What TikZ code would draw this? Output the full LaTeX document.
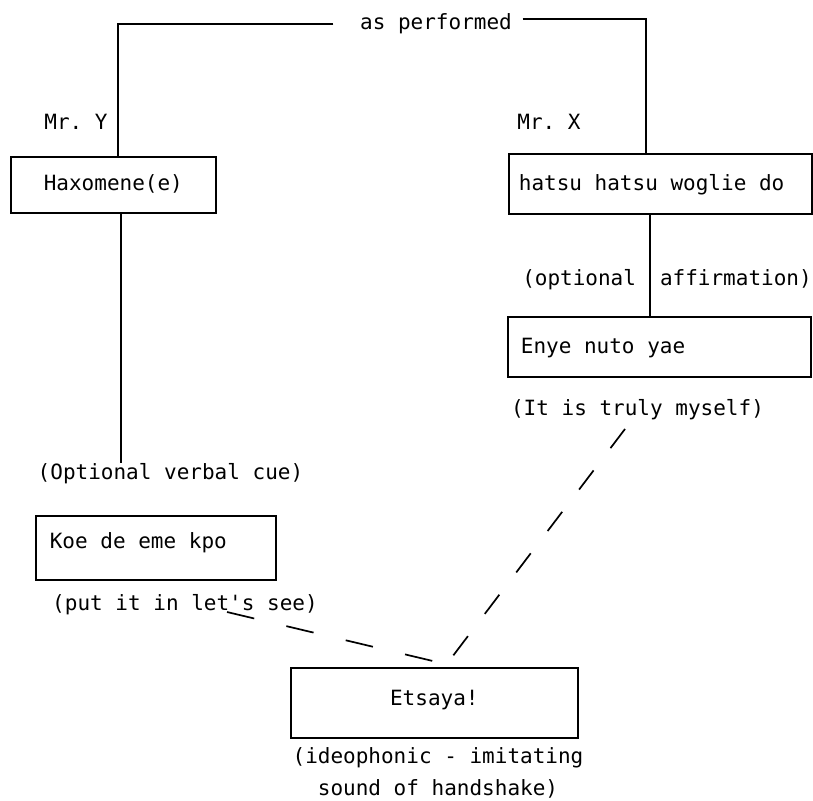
\documentclass[tikz,border=0pt]{standalone}
\usepackage{fontspec}
\newfontfamily\tw{DejaVu Sans Mono}
\frenchspacing
\begin{document}
\begin{tikzpicture}[x=1pt,y=-1pt,
  font=\tw\fontsize{21}{32}\selectfont,
  line width=1.7pt,
  every node/.style={execute at begin node={\frenchspacing\spaceskip=0pt\xspaceskip=0pt\relax}},
  box/.style={draw, rectangle, inner ysep=0pt, anchor=north west},
  lbl/.style={inner sep=0pt},
  dashA/.style={dash pattern=on 24pt off 28pt},
  dashB/.style={dash pattern=on 28pt off 33pt}]
\useasboundingbox (0,0) rectangle (813,800);

\node[lbl] (perf) at (436,24) {as performed};
\node[lbl] (mry) at (76,122) {Mr. Y};
\node[lbl] (mrx) at (549,122) {Mr. X};

\node[box, text width=185pt, inner xsep=10pt, align=center, text height=33.5pt, text depth=22.5pt] (hax) at (10,156) {Haxomene(e)};
\node[box, text width=283pt, inner xsep=10pt, align=left, text height=36.5pt, text depth=23.5pt] (hatsu) at (508,153) {hatsu hatsu woglie do};

\node[lbl] (optaff) at (667,280) {(optional\hspace{24pt}affirmation)};
\node[box, text width=277pt, inner xsep=13pt, align=left, text height=36.5pt, text depth=23.5pt] (enye) at (507,316) {Enye nuto yae};
\node[lbl] (truly) at (637.5,410) {(It is truly myself)};

\node[lbl] (cue) at (170.5,474) {(Optional verbal cue)};
\node[box, text width=212pt, inner xsep=14pt, align=left, text height=32.5pt, text depth=31.5pt] (koe) at (35,515) {Koe de eme kpo};
\node[lbl] (see) at (185,605) {(put it in let's see)};

\node[box, text width=267pt, inner xsep=10pt, align=center, text height=37.5pt, text depth=32.5pt] (ets) at (290,667) {Etsaya!};
\node[lbl, align=center] (ideo) at (438,773) {(ideophonic - imitating\\sound of handshake)};

% connectors
\draw ([xshift=-26pt]perf.west) -| ([xshift=4.5pt]hax.north);
\draw ([xshift=10pt,yshift=5pt]perf.east) -| ([xshift=-14.5pt]hatsu.north);
\draw ([xshift=7.5pt]hax.south) -- ([xshift=7.5pt]hax.south |- cue.north);
\draw ([xshift=-10.5pt]hatsu.south) -- ([xshift=-10.5pt]hatsu.south |- enye.north);
\draw[dashA] ([shift={(-12.5,19)}]truly.center) -- ([shift={(18.5,-11)}]ets.north);
\draw[dashB] ([shift={(42,7)}]see.center) -- ([shift={(-1.5,-6)}]ets.north);
\end{tikzpicture}
\end{document}
